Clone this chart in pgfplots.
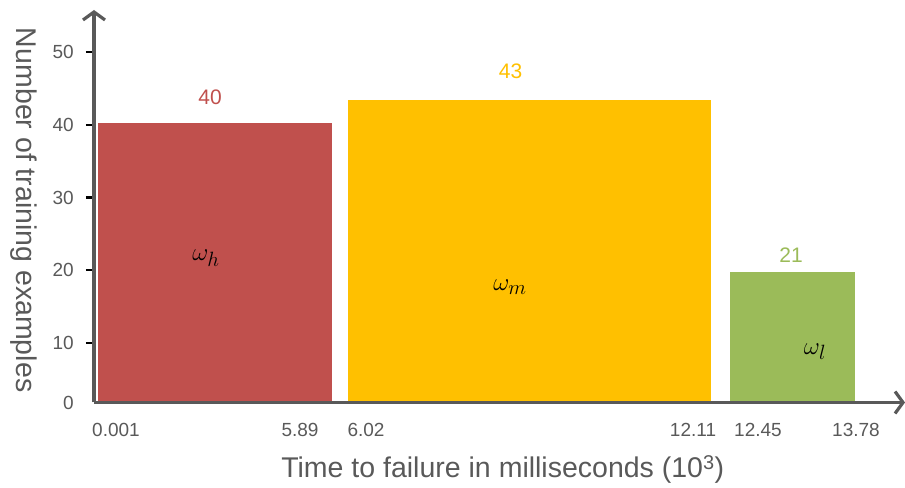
\documentclass[border=0pt]{standalone}
\usepackage{pgfplots}
\pgfplotsset{compat=1.18}
\usepackage{fontspec}
\setmainfont{Liberation Sans}
\usetikzlibrary{arrows.meta}
\definecolor{txtgray}{HTML}{595959}
\definecolor{axgray}{HTML}{595959}
\definecolor{cred}{HTML}{C0504D}
\definecolor{cyel}{HTML}{FFC000}
\definecolor{cgreen}{HTML}{9BBB59}
\begin{document}
\begin{tikzpicture}[x=1bp,y=1bp]
\useasboundingbox (0,0) rectangle (905,488);
\begin{axis}[
  at={(94bp,85.5bp)}, anchor=south west,
  scale only axis, width=811bp, height=392.5bp,
  xmin=94, xmax=905, ymin=1.82, ymax=55.77,
  axis lines=left, axis on top,
  /pgf/number format/assume math mode=true,
  axis line style={draw=axgray, line width=3.2bp, -{Straight Barb[length=8bp,width=22bp]}},
  xtick={116,300,366,693,758,856},
  xticklabels={0.001,5.89,6.02,12.11,12.45,13.78},
  xtick style={draw=none},
  ytick={10,20,30,40,50},
  yticklabels={10,20,30,40,50},
  extra y ticks={1.82}, extra y tick labels={0},
  extra y tick style={ytick style={draw=none}},
  tick style={draw=black, line width=2.4bp},
  major tick style={draw=black, line width=2.4bp},
  tick align=outside, major tick length=8bp,
  tick label style={font=\fontsize{19bp}{22bp}\selectfont, text=txtgray},
  yticklabel style={anchor=east, inner sep=0pt, xshift=-12bp},
  xticklabel style={anchor=north, inner sep=0pt, yshift=-13bp},
  xlabel={Time to failure in milliseconds (10\textsuperscript{3})},
  every axis x label/.style={at={(axis description cs:0.504,0)}, anchor=base, yshift=-75.5bp, font=\fontsize{28.5bp}{32bp}\selectfont, text=txtgray},
  ylabel={Number of training examples},
  every axis y label/.style={at={(axis description cs:-0.087,0.49)}, anchor=center, rotate=-90, font=\fontsize{28.5bp}{32bp}\selectfont, text=txtgray},
]
\addplot[fill=cred, draw=none] coordinates {(98,0) (98,40.2) (332,40.2) (332,0)} -- cycle;
\addplot[fill=cyel, draw=none] coordinates {(348,0) (348,43.4) (711,43.4) (711,0)} -- cycle;
\addplot[fill=cgreen, draw=none] coordinates {(730,0) (730,19.8) (855,19.8) (855,0)} -- cycle;
\node[text=cred, font=\fontsize{21bp}{24bp}\selectfont] at (axis cs:210,43.75) {40};
\node[text=cyel, font=\fontsize{21bp}{24bp}\selectfont] at (axis cs:510.5,47.3) {43};
\node[text=cgreen, font=\fontsize{21bp}{24bp}\selectfont] at (axis cs:791,22.1) {21};
\node[font=\fontsize{32bp}{36bp}\selectfont] at (axis cs:206,21.7) {$\omega_h$};
\node[font=\fontsize{32bp}{36bp}\selectfont] at (axis cs:510,17.7) {$\omega_m$};
\node[font=\fontsize{32bp}{36bp}\selectfont] at (axis cs:815,8.8) {$\omega_l$};
\end{axis}
\end{tikzpicture}
\end{document}
